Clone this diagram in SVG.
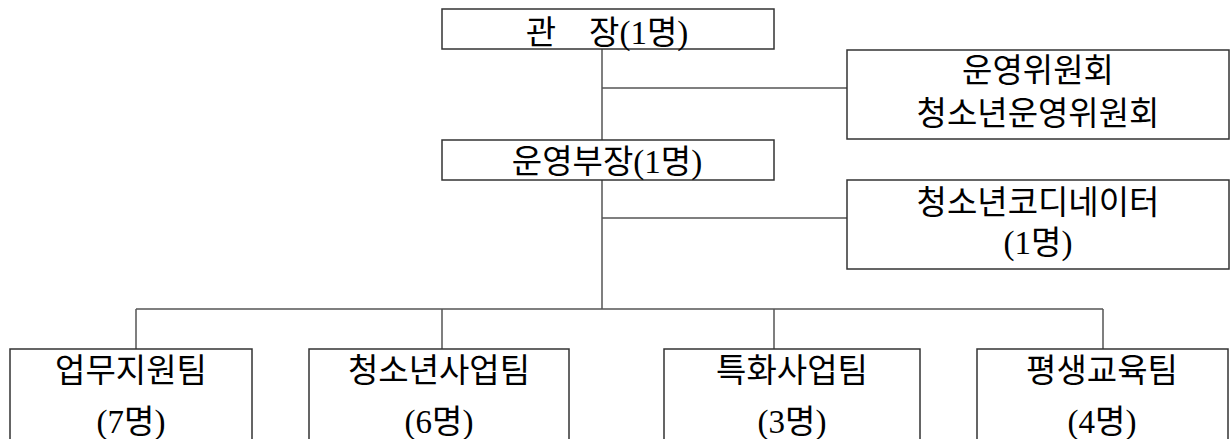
<svg xmlns="http://www.w3.org/2000/svg" width="1231" height="439" viewBox="0 0 1231 439">
<style>
.box{fill:#fff;stroke:#333;stroke-width:1.5}
.ln{fill:none;stroke:#555;stroke-width:1.5}
text{font-family:"Liberation Serif","Noto Sans CJK KR",serif;font-size:33px;fill:#000;text-anchor:middle}
</style>
<rect width="1231" height="439" fill="#fff"/>
<g id="connectors">
<path class="ln" d="M602 49V140M602 88H847"/>
<path class="ln" d="M602 180V309M602 218H847"/>
<path class="ln" d="M136 309H1103M136 309V349M442 309V349M774 309V349M1103 309V349"/>
</g>
<g id="director">
<rect class="box" x="442" y="9" width="332" height="40"/>
<text x="607" y="44">관　장(1명)</text>
</g>
<g id="committee">
<rect class="box" x="847" y="50" width="382" height="89"/>
<text x="1038" y="82">운영위원회</text>
<text x="1038" y="125">청소년운영위원회</text>
</g>
<g id="manager">
<rect class="box" x="442" y="140" width="332" height="40"/>
<text x="607" y="173">운영부장(1명)</text>
</g>
<g id="coordinator">
<rect class="box" x="847" y="180" width="382" height="89"/>
<text x="1038" y="214">청소년코디네이터</text>
<text x="1038" y="254">(1명)</text>
</g>
<g id="team1">
<rect class="box" x="10" y="349" width="242" height="100"/>
<text x="131" y="382">업무지원팀</text>
<text x="131" y="433">(7명)</text>
</g>
<g id="team2">
<rect class="box" x="309" y="349" width="260" height="100"/>
<text x="439" y="382">청소년사업팀</text>
<text x="439" y="433">(6명)</text>
</g>
<g id="team3">
<rect class="box" x="664" y="349" width="256" height="100"/>
<text x="792" y="382">특화사업팀</text>
<text x="792" y="433">(3명)</text>
</g>
<g id="team4">
<rect class="box" x="977" y="349" width="251" height="100"/>
<text x="1102" y="382">평생교육팀</text>
<text x="1102" y="433">(4명)</text>
</g>
</svg>
